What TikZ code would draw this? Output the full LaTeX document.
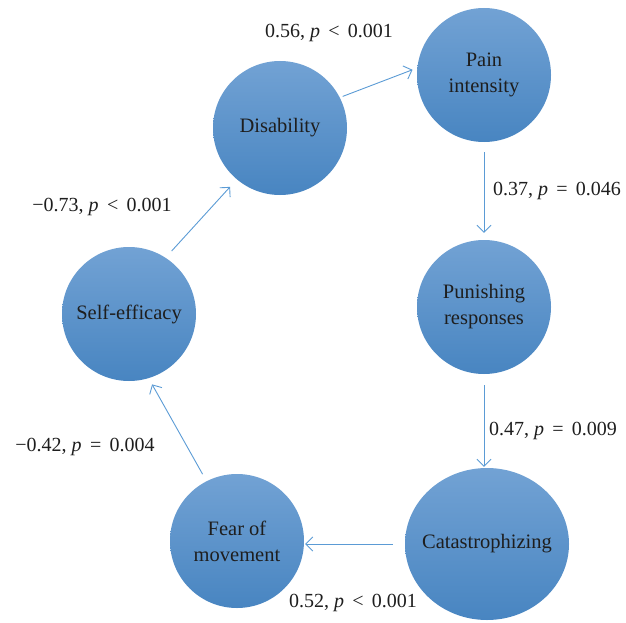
\documentclass[tikz,border=0pt]{standalone}
\usepackage{fontspec}
\setmainfont{Liberation Serif}
\usetikzlibrary{arrows.meta,shapes.geometric}
\definecolor{topblue}{RGB}{114,162,212}
\definecolor{botblue}{RGB}{72,133,193}
\definecolor{linkblue}{RGB}{91,155,213}
\definecolor{txt}{RGB}{30,30,30}
\tikzset{
  bubble/.style={circle, minimum size=134pt, inner sep=0pt, top color=topblue, bottom color=botblue, draw=none,
    text=txt, font=\fontsize{20.5}{26}\selectfont, align=center},
  link/.style={draw=linkblue, line width=0.9pt, -{Straight Barb[length=7pt,width=14pt]}},
  lbl/.style={text=txt, font=\fontsize{20}{24}\selectfont, inner sep=0pt}
}
\begin{document}
\begin{tikzpicture}[x=1pt,y=-1pt]
\useasboundingbox (0,0) rectangle (626,623);
\node[bubble] (dis) at (280,128) {Disability};
\node[bubble] (pain) at (484,75) {Pain\\intensity};
\node[bubble] (pun) at (484,307) {Punishing\\responses};
\node[bubble, ellipse, inner xsep=-30pt, minimum width=164pt, minimum height=152pt] (cat) at (487,544) {Catastrophizing};
\node[bubble] (fear) at (237,541) {Fear of\\movement};
\node[bubble] (self) at (129,314) {Self-efficacy};

\draw[link, shorten <=3pt, shorten >=5pt] (dis.27) -- (pain.174);
\draw[link, shorten <=10pt, shorten >=7pt] (pain.south) -- (pun.north);
\draw[link, shorten <=11pt, shorten >=1pt] (pun.south) -- (pun.south |- cat.north);
\draw[link, shorten <=12pt, shorten >=1pt] (cat.west) -- (cat.west -| fear.east);
\draw[link, shorten <=8pt, shorten >=7pt] (fear.117) -- (self.-73);
\draw[link, shorten <=9pt, shorten >=10pt] (self.57) -- (dis.230);

\node[lbl] (l1) at (329,33) {0.56, \textit{p}\, <\, 0.001};
\node[lbl] (l2) at (557,191) {0.37, \textit{p}\, =\, 0.046};
\node[lbl] (l3) at (102,207) {−0.73, \textit{p}\, <\, 0.001};
\node[lbl] (l4) at (85,447) {−0.42, \textit{p}\, =\, 0.004};
\node[lbl] (l5) at (553,431) {0.47, \textit{p}\, =\, 0.009};
\node[lbl] (l6) at (353,603) {0.52, \textit{p}\, <\, 0.001};
\end{tikzpicture}
\end{document}
